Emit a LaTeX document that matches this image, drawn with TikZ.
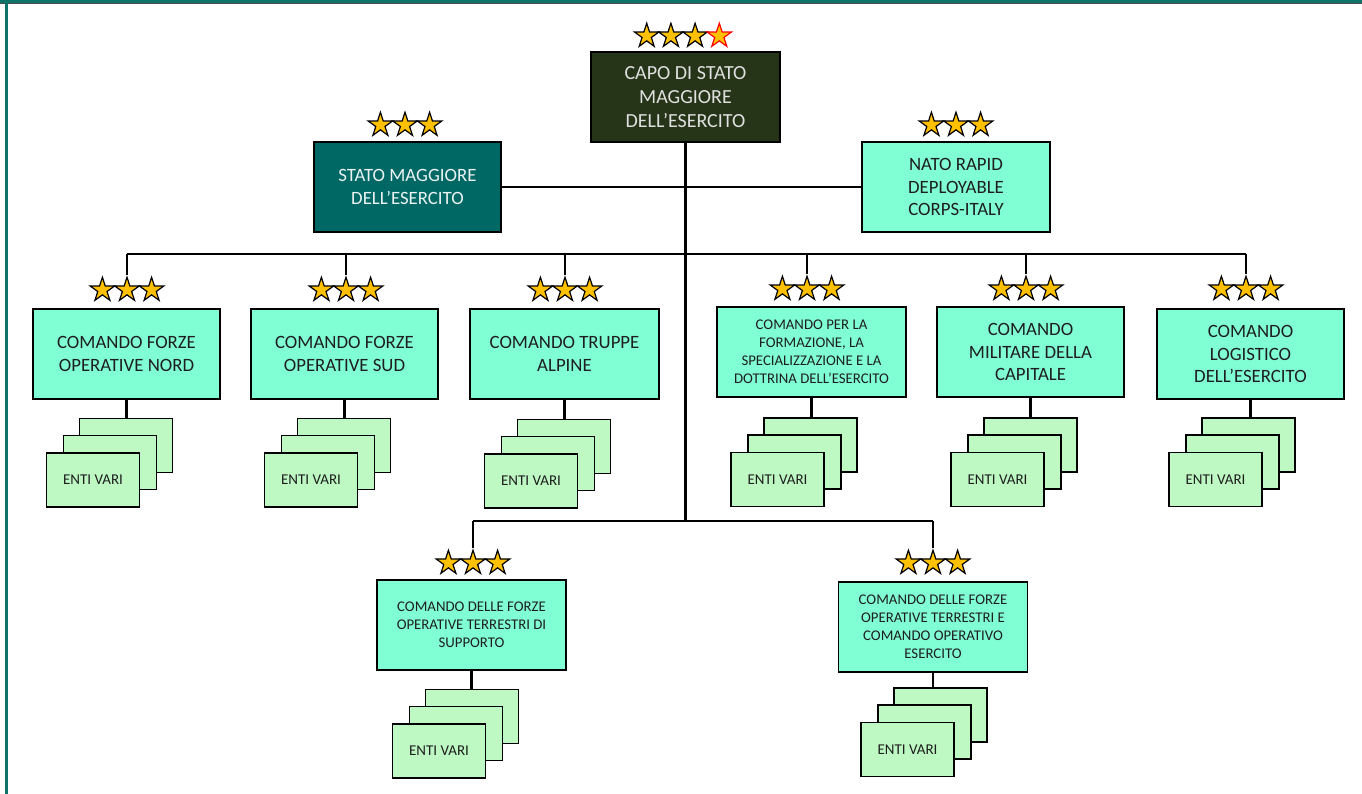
\documentclass[tikz,border=0pt]{standalone}
\usepackage{fontspec}
\setmainfont{Carlito}
\usetikzlibrary{shapes.geometric,backgrounds}
\definecolor{aqua}{RGB}{128,255,212}
\definecolor{entigreen}{RGB}{190,248,195}
\definecolor{capgreen}{RGB}{38,52,24}
\definecolor{smteal}{RGB}{0,104,100}
\definecolor{bordteal}{RGB}{15,115,105}
\definecolor{gold}{RGB}{255,192,0}
\definecolor{txt}{RGB}{30,30,30}
\tikzset{
  boxbase/.style={draw=black, line width=1.8, align=center, inner sep=2, text=txt, fill=aqua},
  bigbox/.style={boxbase, minimum width=187, minimum height=90, font=\fontsize{18.8}{22.7}\selectfont},
  smallbox/.style={boxbase, minimum width=189, minimum height=90, font=\fontsize{14.8}{18}\selectfont},
  enti/.style={draw=black, line width=1.8, fill=entigreen, minimum width=93, minimum height=54, inner sep=0, text=txt, font=\fontsize{15}{18}\selectfont},
  starnode/.style={star, star points=5, star point ratio=2.618, minimum size=25.5, inner sep=0, fill=gold, draw=black, line width=1.2},
  conn/.style={draw=black, line width=2.2}
}
\newcommand\mystars[3]{%
  \node[starnode] (#1a) at ({#2-24.6},#3) {};
  \node[starnode] (#1b) at (#2,#3) {};
  \node[starnode] (#1c) at ({#2+24.6},#3) {};}
\newcommand\mystack[3]{%
  \node[enti] (#1k) at ({#2-0.5},#3) {};
  \node[enti] (#1m) at ({#2-16.5},{#3+17}) {};
  \node[enti] (#1f) at ({#2-33.5},{#3+34.5}) {ENTI VARI};}
\begin{document}
\begin{tikzpicture}[x=1pt,y=-1pt]
\useasboundingbox (0,0) rectangle (1362,794);
% frame
\fill[bordteal] (0,0) rectangle (1362,3);
\fill[black!70] (0,3) rectangle (1362,4.2);
\fill[bordteal] (5,0) rectangle (8,794);

% top
\node[boxbase, fill=capgreen, text=black!12, minimum width=189, minimum height=90,
      font=\fontsize{20}{24}\selectfont] (cap) at (685.5,97) {CAPO DI STATO\\MAGGIORE\\DELL’ESERCITO};
\node[starnode] (capsa) at (646.7,36) {};
\node[starnode] (capsb) at (670.9,36) {};
\node[starnode] (capsc) at (695.1,36) {};
\node[starnode, draw=red] (capsd) at (719.3,36) {};

\node[bigbox, fill=smteal, text=white!92!smteal] (sm) at (407.5,187) {STATO MAGGIORE\\DELL’ESERCITO};
\mystars{sms}{405}{125}
\node[bigbox, minimum width=188] (nato) at (956,187) {NATO RAPID\\DEPLOYABLE\\CORPS-ITALY};
\mystars{natos}{956}{125}

% second row
\node[bigbox] (r1) at (126.5,354) {COMANDO FORZE\\OPERATIVE NORD};
\node[bigbox] (r2) at (344.5,354) {COMANDO FORZE\\OPERATIVE SUD};
\node[bigbox, minimum width=189] (r3) at (564.5,354) {COMANDO TRUPPE\\ALPINE};
\node[smallbox] (r4) at (811.5,352) {COMANDO PER LA\\FORMAZIONE, LA\\SPECIALIZZAZIONE E LA\\DOTTRINA DELL’ESERCITO};
\node[bigbox] (r5) at (1030.5,352) {COMANDO\\MILITARE DELLA\\CAPITALE};
\node[bigbox] (r6) at (1250.5,354) {COMANDO\\LOGISTICO\\DELL’ESERCITO};
\mystars{r1s}{127}{290}
\mystars{r2s}{346}{290}
\mystars{r3s}{565}{290}
\mystars{r4s}{807}{289}
\mystars{r5s}{1026}{289}
\mystars{r6s}{1246}{289}
\mystack{r1}{126.5}{445.5}
\mystack{r2}{344.5}{445.5}
\mystack{r3}{564.5}{446.5}
\mystack{r4}{811}{445}
\mystack{r5}{1031}{445}
\mystack{r6}{1249}{445}

% bottom row
\node[smallbox] (b1) at (471.5,625) {COMANDO DELLE FORZE\\OPERATIVE TERRESTRI DI\\SUPPORTO};
\node[smallbox] (b2) at (933,627) {COMANDO DELLE FORZE\\OPERATIVE TERRESTRI E\\COMANDO OPERATIVO\\ESERCITO};
\mystars{b1s}{473}{563}
\mystars{b2s}{933}{563}
\mystack{b1}{472.5}{716.5}
\mystack{b2}{941}{715}

\coordinate (jb) at (686,521);
\coordinate (busL) at (127,254);
\coordinate (busR) at (1246,254);
\coordinate (bbL) at (473,521);
\coordinate (bbR) at (933,521);

\begin{pgfonlayer}{background}
\draw[conn] (cap.south) -- (cap.south |- jb);
\draw[conn] (sm.east) -- (nato.west);
\draw[conn] (busL) -- (busR);
\draw[conn] (bbL) -- (bbR);
\foreach \r in {r1,r2,r3,r4,r5,r6}{
  \draw[conn] (\r sb |- busL) -- (\r sb);
  \draw[conn] (\r.south) -- (\r.south |- \r k.north);
}
\foreach \r in {b1,b2}{
  \draw[conn] (\r sb |- bbL) -- (\r sb);
  \draw[conn] (\r.south) -- (\r.south |- \r k.north);
}
\end{pgfonlayer}
\end{tikzpicture}
\end{document}
